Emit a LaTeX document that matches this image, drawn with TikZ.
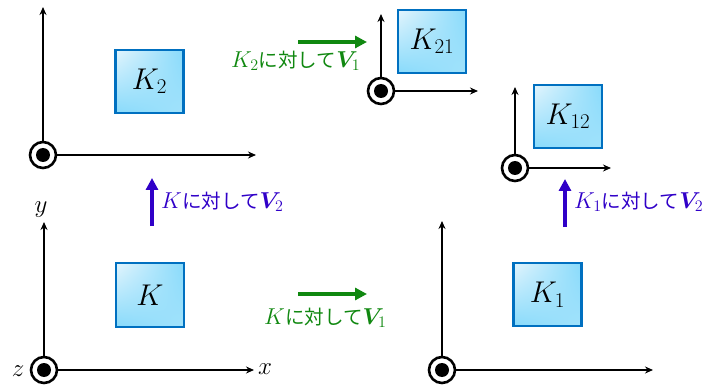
\RequirePackage{fix-cm}
\documentclass[tikz,border=0pt]{standalone}
\usepackage{amsmath,amssymb}
\usepackage{bm}
\usepackage{fontspec}
\newfontfamily\jpfont[Scale=0.85]{Noto Sans CJK JP}
\usepackage{xcolor}
\usepackage{tikz}
\usetikzlibrary{arrows.meta,positioning,shadings}

\definecolor{boxblue}{RGB}{0,112,192}
\definecolor{boxlight}{RGB}{228,245,253}
\definecolor{boxcyan}{RGB}{122,214,250}
\definecolor{velgreen}{RGB}{16,136,16}
\definecolor{velblue}{RGB}{48,0,200}

\begin{document}
\begin{tikzpicture}[x=1pt, y=-1pt,
  orig/.style={circle, draw=black, line width=2.6pt, fill=white, minimum size=26pt,
               inner sep=0pt,
               path picture={\fill[black] (path picture bounding box.center) circle (7pt);}},
  frm/.style={rectangle, draw=boxblue, line width=2.4pt, upper left=boxlight,
              upper right=boxcyan!90, lower left=boxcyan!90, lower right=boxcyan!70!white,
              minimum width=68pt, minimum height=63.5pt, inner sep=0pt,
              font=\fontsize{30}{33}\selectfont},
  axis/.style={line width=2pt, -{Stealth[length=8pt,width=7pt]}},
  ax/.style={font=\fontsize{25}{28}\selectfont, inner sep=0pt},
  vel/.style={line width=4.5pt, -{Triangle[length=12pt,width=12pt]}},
  lbl/.style={font=\fontsize{23}{26}\selectfont, inner sep=0pt}
]
  \useasboundingbox (0,0) rectangle (710,385);

  % frames
  \node[orig] (oK)   at (44, 370) {};
  \node[orig] (oK2)  at (43, 155) {};
  \node[orig] (oK1)  at (442, 370) {};
  \node[orig] (oK21) at (381, 91) {};
  \node[orig] (oK12) at (515, 168) {};

  \coordinate (Ky)   at (44, 222);
  \coordinate (Kx)   at (254, 370);
  \coordinate (K2y)  at (43, 7);
  \coordinate (K2x)  at (256, 155);
  \coordinate (K1y)  at (442, 221);
  \coordinate (K1x)  at (653, 370);
  \coordinate (K21y) at (381, 14);
  \coordinate (K21x) at (478, 91);
  \coordinate (K12y) at (515, 87);
  \coordinate (K12x) at (611, 168);

  \draw[axis] (oK) -- (Ky);
  \draw[axis] (oK) -- (Kx);
  \draw[axis] (oK2) -- (K2y);
  \draw[axis] (oK2) -- (K2x);
  \draw[axis] (oK1) -- (K1y);
  \draw[axis] (oK1) -- (K1x);
  \draw[axis] (oK21) -- (K21y);
  \draw[axis] (oK21) -- (K21x);
  \draw[axis] (oK12) -- (K12y);
  \draw[axis] (oK12) -- (K12x);

  \node[ax] (ylbl) at (41, 210) {$y$};
  \node[ax] (xlbl) at (265, 369) {$x$};
  \node[ax] (zlbl) at (18, 371) {$z$};

  % boxes
  \node[frm] (bK)   at (150, 295)   {$K$};
  \node[frm] (bK2)  at (149.5, 81.5) {$K_2$};
  \node[frm] (bK1)  at (547.5, 294.5) {$K_1$};
  \node[frm] (bK21) at (432, 41.5)  {$K_{21}$};
  \node[frm] (bK12) at (568, 116.5) {$K_{12}$};

  % velocities
  \coordinate (vLs) at (152, 226);
  \coordinate (vLe) at (152, 178);
  \coordinate (vRs) at (565, 227);
  \coordinate (vRe) at (565, 179);
  \coordinate (vBs) at (298, 294);
  \coordinate (vBe) at (367, 294);
  \coordinate (vTs) at (298, 42);
  \coordinate (vTe) at (367, 42);

  \draw[vel, velblue]  (vLs) -- (vLe);
  \draw[vel, velblue]  (vRs) -- (vRe);
  \draw[vel, velgreen] (vBs) -- (vBe);
  \draw[vel, velgreen] (vTs) -- (vTe);

  \node[lbl, velblue, anchor=west]  (tL) at (161, 202) {$K$\jpfont に対して$\bm{V}_2$};
  \node[lbl, velblue, anchor=west]  (tR) at (574, 202) {$K_1$\jpfont に対して$\bm{V}_2$};
  \node[lbl, velgreen, anchor=west] (tB) at (264, 318) {$K$\jpfont に対して$\bm{V}_1$};
  \node[lbl, velgreen, anchor=west] (tT) at (231, 61)  {$K_2$\jpfont に対して$\bm{V}_1$};
\end{tikzpicture}
\end{document}
